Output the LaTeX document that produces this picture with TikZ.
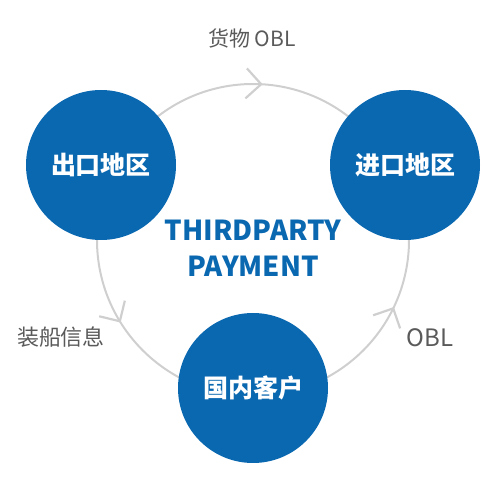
\documentclass[tikz,border=0pt]{standalone}
\usepackage{fontspec}
\usetikzlibrary{calc}
\setmainfont{Noto Sans CJK SC}
\definecolor{circblue}{HTML}{0A68B1}
\definecolor{ringgray}{HTML}{CFCFCF}
\definecolor{labelgray}{HTML}{5A5A5A}
\tikzset{
  ring/.style={draw=ringgray, line width=2pt},
  chev/.style={draw=ringgray, line width=2.2pt},
  bigdot/.style={circle, fill=circblue, minimum size=150pt, inner sep=0pt, text=white, font=\fontsize{25}{30}\selectfont\bfseries},
  lbl/.style={text=labelgray, inner sep=0pt},
  centre/.style={text=circblue, inner sep=0pt, font=\fontsize{27.5}{32}\selectfont\bfseries},
}
\begin{document}
\begin{tikzpicture}[x=1pt,y=1pt]
\useasboundingbox (0,0) rectangle (499,488);
\coordinate (c) at (253,248);
\draw[ring] (c) circle[radius=156];
% chevrons
\foreach \a/\d in {87/-3, 211.4/301.4, -26/64} {
  \begin{scope}[shift={($(c)+(\a:156)$)}, rotate=\d]
    \draw[chev] (-15,15) -- (0,0) -- (-15,-15);
  \end{scope}
}
\node[bigdot] (exp) at (101,323) {出口地区};
\node[bigdot] (imp) at (405,323) {进口地区};
\node[bigdot] (cus) at (253,100) {国内客户};
\node[centre] (t1) at (253,258) {THIRDPARTY};
\node[centre] (t2) at (253,222) {PAYMENT};
\node[lbl, font=\fontsize{21}{24}\selectfont] (l1) at (252,450) {货物 OBL};
\node[lbl, font=\fontsize{22}{26}\selectfont] (l2) at (61,151) {装船信息};
\node[lbl, font=\fontsize{24}{28}\selectfont] (l3) at (430,150) {OBL};
\end{tikzpicture}
\end{document}
